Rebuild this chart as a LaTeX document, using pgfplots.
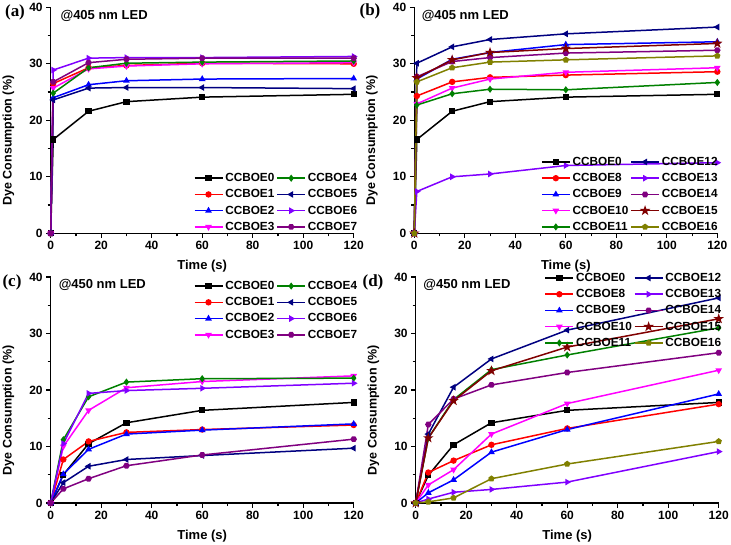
\documentclass[border=0pt]{standalone}
\usepackage{fontspec}
\setmainfont{Liberation Sans}
\newfontfamily\tnr{Liberation Serif}
\usepackage{pgfplots}
\pgfplotsset{compat=1.18}

\definecolor{cviolet}{RGB}{128,0,255}
\definecolor{cpurple}{RGB}{128,0,128}
\definecolor{cnavy}{RGB}{0,0,128}
\definecolor{cgreen}{RGB}{0,128,0}
\definecolor{cwine}{RGB}{128,0,0}
\definecolor{colive}{RGB}{128,128,0}
\definecolor{cmag}{RGB}{255,0,255}
\definecolor{cred}{RGB}{255,0,0}
\definecolor{cblue}{RGB}{0,0,255}

% filled hexagon and filled star marks (Origin style)
\pgfdeclareplotmark{hex*}{%
  \pgfpathmoveto{\pgfqpointpolar{0}{\pgfplotmarksize}}%
  \pgfpathlineto{\pgfqpointpolar{60}{\pgfplotmarksize}}%
  \pgfpathlineto{\pgfqpointpolar{120}{\pgfplotmarksize}}%
  \pgfpathlineto{\pgfqpointpolar{180}{\pgfplotmarksize}}%
  \pgfpathlineto{\pgfqpointpolar{240}{\pgfplotmarksize}}%
  \pgfpathlineto{\pgfqpointpolar{300}{\pgfplotmarksize}}%
  \pgfpathclose\pgfusepathqfillstroke}
\pgfdeclareplotmark{fstar}{%
  \pgfpathmoveto{\pgfqpointpolar{90}{1.3\pgfplotmarksize}}%
  \pgfpathlineto{\pgfqpointpolar{126}{0.5\pgfplotmarksize}}%
  \pgfpathlineto{\pgfqpointpolar{162}{1.3\pgfplotmarksize}}%
  \pgfpathlineto{\pgfqpointpolar{198}{0.5\pgfplotmarksize}}%
  \pgfpathlineto{\pgfqpointpolar{234}{1.3\pgfplotmarksize}}%
  \pgfpathlineto{\pgfqpointpolar{270}{0.5\pgfplotmarksize}}%
  \pgfpathlineto{\pgfqpointpolar{306}{1.3\pgfplotmarksize}}%
  \pgfpathlineto{\pgfqpointpolar{342}{0.5\pgfplotmarksize}}%
  \pgfpathlineto{\pgfqpointpolar{18}{1.3\pgfplotmarksize}}%
  \pgfpathlineto{\pgfqpointpolar{54}{0.5\pgfplotmarksize}}%
  \pgfpathclose\pgfusepathqfillstroke}

\pgfplotsset{
  panel/.style={
    scale only axis, width=303pt, height=226pt,
    axis lines=left, axis line style={-, line width=1.3pt},
    xmin=0, xmax=120, ymin=0, ymax=40,
    xtick={0,20,...,120}, ytick={0,10,...,40},
    minor x tick num=1, minor y tick num=1,
    tick align=outside, major tick length=4.5pt, minor tick length=3pt,
    every tick/.style={line width=1.1pt, black},
    /pgf/number format/assume math mode=true,
    ticklabel style={font=\bfseries\fontsize{12}{12}\selectfont},
    xlabel={Time (s)}, ylabel={Dye Consumption (\%)},
    xlabel style={font=\bfseries\fontsize{13}{13}\selectfont, at={(rel axis cs:0.5,0)}, anchor=center, yshift=-33pt},
    ylabel style={font=\bfseries\fontsize{12.5}{12.5}\selectfont, at={(rel axis cs:-0.140,0.41)}, anchor=center},
    clip=false,
    every axis plot/.append style={line width=1.5pt, mark size=2.4pt},
    transpose legend,
    legend cell align=left,
    legend style={draw=none, fill=none, inner sep=0pt, row sep=2.5pt,
      font=\bfseries\fontsize{11.8}{11.8}\selectfont,
      /tikz/every even column/.append style={column sep=0pt}},
    legend image code/.code={\draw[mark repeat=2,mark phase=2] plot coordinates {(0pt,0pt) (14pt,0pt) (28pt,0pt)};},
  },
  s0/.style={black, mark=square*},
  s1/.style={cred, mark=*},
  s2/.style={cblue, mark=triangle*},
  s3/.style={cmag, mark=triangle*, mark options={rotate=180}},
  s4/.style={cgreen, mark=diamond*},
  s5/.style={cnavy, mark=triangle*, mark options={rotate=90}},
  s6/.style={cviolet, mark=triangle*, mark options={rotate=-90}},
  s7/.style={cpurple, mark=hex*},
  s15/.style={cwine, mark=fstar},
  s16/.style={colive, mark=pentagon*},
}

\begin{document}
\begin{tikzpicture}
\path[use as bounding box] (0,0) rectangle (731pt,544pt);

% ---------------- (a) ----------------
\begin{axis}[panel, at={(50.7pt,310.7pt)}, anchor=south west,
  legend columns=4,
  legend style={at={(rel axis cs:0.745,0.136)}, anchor=center}]
\addplot[s0] coordinates {(0,0) (1,16.6) (15,21.6) (30,23.3) (60,24.1) (120,24.6)};
\addlegendentry{CCBOE0}
\addplot[s1] coordinates {(0,0) (1,26.5) (15,29.3) (30,29.7) (60,30.1) (120,30.0)};
\addlegendentry{CCBOE1}
\addplot[s2] coordinates {(0,0) (1,24.0) (15,26.3) (30,27.0) (60,27.3) (120,27.4)};
\addlegendentry{CCBOE2}
\addplot[s3] coordinates {(0,0) (1,25.7) (15,29.1) (30,29.6) (60,30.0) (120,30.2)};
\addlegendentry{CCBOE3}
\addplot[s4] coordinates {(0,0) (1,24.8) (15,29.3) (30,30.1) (60,30.3) (120,30.5)};
\addlegendentry{CCBOE4}
\addplot[s5] coordinates {(0,0) (1,23.6) (15,25.7) (30,25.8) (60,25.8) (120,25.6)};
\addlegendentry{CCBOE5}
\addplot[s6] coordinates {(0,0) (1,28.9) (15,31.0) (30,31.1) (60,31.1) (120,31.3)};
\addlegendentry{CCBOE6}
\addplot[s7] coordinates {(0,0) (1,26.8) (15,30.2) (30,30.8) (60,31.0) (120,31.0)};
\addlegendentry{CCBOE7}
\node[anchor=west, font=\bfseries\fontsize{13}{13}\selectfont] at (rel axis cs:0.021,0.961) {@405 nm LED};
\end{axis}

% ---------------- (b) ----------------
\begin{axis}[panel, at={(414.3pt,310.7pt)}, anchor=south west,
  legend columns=5,
  legend style={at={(rel axis cs:0.713,0.172)}, anchor=center}]
\addplot[s0] coordinates {(0,0) (1,16.6) (15,21.6) (30,23.3) (60,24.1) (120,24.6)};
\addlegendentry{CCBOE0}
\addplot[s1] coordinates {(0,0) (1,24.3) (15,26.8) (30,27.6) (60,28.0) (120,28.6)};
\addlegendentry{CCBOE8}
\addplot[s2] coordinates {(0,0) (1,27.3) (15,30.8) (30,32.0) (60,33.4) (120,33.9)};
\addlegendentry{CCBOE9}
\addplot[s3] coordinates {(0,0) (1,22.9) (15,25.7) (30,27.3) (60,28.5) (120,29.3)};
\addlegendentry{CCBOE10}
\addplot[s4] coordinates {(0,0) (1,22.7) (15,24.7) (30,25.5) (60,25.4) (120,26.7)};
\addlegendentry{CCBOE11}
\addplot[s5] coordinates {(0,0) (1,30.1) (15,33.0) (30,34.3) (60,35.3) (120,36.5)};
\addlegendentry{CCBOE12}
\addplot[s6] coordinates {(0,0) (1,7.4) (15,10.0) (30,10.5) (60,12.0) (120,12.5)};
\addlegendentry{CCBOE13}
\addplot[s7] coordinates {(0,0) (1,27.7) (15,30.4) (30,31.1) (60,31.9) (120,32.4)};
\addlegendentry{CCBOE14}
\addplot[s15] coordinates {(0,0) (1,27.5) (15,30.7) (30,32.0) (60,32.7) (120,33.6)};
\addlegendentry{CCBOE15}
\addplot[s16] coordinates {(0,0) (1,26.8) (15,29.3) (30,30.3) (60,30.7) (120,31.4)};
\addlegendentry{CCBOE16}
\node[anchor=west, font=\bfseries\fontsize{13}{13}\selectfont] at (rel axis cs:0.013,0.961) {@405 nm LED};
\end{axis}

% ---------------- (c) ----------------
\begin{axis}[panel, at={(50.7pt,41pt)}, anchor=south west,
  legend columns=4,
  legend style={at={(rel axis cs:0.745,0.852)}, anchor=center}]
\addplot[s0] coordinates {(0,0) (5,5.0) (15,10.5) (30,14.2) (60,16.4) (120,17.8)};
\addlegendentry{CCBOE0}
\addplot[s1] coordinates {(0,0) (5,7.7) (15,10.9) (30,12.5) (60,13.0) (120,13.8)};
\addlegendentry{CCBOE1}
\addplot[s2] coordinates {(0,0) (5,5.1) (15,9.5) (30,12.2) (60,12.9) (120,14.0)};
\addlegendentry{CCBOE2}
\addplot[s3] coordinates {(0,0) (5,10.0) (15,16.4) (30,20.4) (60,21.5) (120,22.5)};
\addlegendentry{CCBOE3}
\addplot[s4] coordinates {(0,0) (5,11.2) (15,18.8) (30,21.4) (60,22.0) (120,22.1)};
\addlegendentry{CCBOE4}
\addplot[s5] coordinates {(0,0) (5,3.6) (15,6.5) (30,7.7) (60,8.4) (120,9.7)};
\addlegendentry{CCBOE5}
\addplot[s6] coordinates {(0,0) (5,10.5) (15,19.4) (30,19.9) (60,20.3) (120,21.2)};
\addlegendentry{CCBOE6}
\addplot[s7] coordinates {(0,0) (5,2.5) (15,4.3) (30,6.6) (60,8.5) (120,11.3)};
\addlegendentry{CCBOE7}
\node[anchor=west, font=\bfseries\fontsize{13}{13}\selectfont] at (rel axis cs:0.015,0.965) {@450 nm LED};
\end{axis}

% ---------------- (d) ----------------
\begin{axis}[panel, at={(415.7pt,41pt)}, anchor=south west,
  legend columns=5,
  legend style={at={(rel axis cs:0.72,0.852)}, anchor=center}]
\addplot[s0] coordinates {(0,0) (5,4.9) (15,10.3) (30,14.2) (60,16.4) (120,17.8)};
\addlegendentry{CCBOE0}
\addplot[s1] coordinates {(0,0) (5,5.4) (15,7.5) (30,10.3) (60,13.2) (120,17.5)};
\addlegendentry{CCBOE8}
\addplot[s2] coordinates {(0,0) (5,1.8) (15,4.1) (30,9.0) (60,13.0) (120,19.3)};
\addlegendentry{CCBOE9}
\addplot[s3] coordinates {(0,0) (5,3.2) (15,5.9) (30,12.2) (60,17.6) (120,23.5)};
\addlegendentry{CCBOE10}
\addplot[s4] coordinates {(0,0) (5,11.5) (15,18.3) (30,23.6) (60,26.2) (120,31.0)};
\addlegendentry{CCBOE11}
\addplot[s5] coordinates {(0,0) (5,12.2) (15,20.5) (30,25.5) (60,30.6) (120,36.3)};
\addlegendentry{CCBOE12}
\addplot[s6] coordinates {(0,0) (5,0.7) (15,1.9) (30,2.4) (60,3.7) (120,9.1)};
\addlegendentry{CCBOE13}
\addplot[s7] coordinates {(0,0) (5,13.9) (15,18.4) (30,20.9) (60,23.1) (120,26.6)};
\addlegendentry{CCBOE14}
\addplot[s15] coordinates {(0,0) (5,11.5) (15,18.1) (30,23.4) (60,27.6) (120,32.6)};
\addlegendentry{CCBOE15}
\addplot[s16] coordinates {(0,0) (5,0.2) (15,0.9) (30,4.3) (60,6.9) (120,10.9)};
\addlegendentry{CCBOE16}
\node[anchor=west, font=\bfseries\fontsize{13}{13}\selectfont] at (rel axis cs:0.014,0.965) {@450 nm LED};
\end{axis}

% panel letters
\node[font=\tnr\bfseries\fontsize{17}{17}\selectfont] at (15pt,531.5pt) {(a)};
\node[font=\tnr\bfseries\fontsize{17}{17}\selectfont] at (370pt,532.5pt) {(b)};
\node[font=\tnr\bfseries\fontsize{17}{17}\selectfont] at (12pt,262pt) {(c)};
\node[font=\tnr\bfseries\fontsize{17}{17}\selectfont] at (373pt,262pt) {(d)};
\end{tikzpicture}
\end{document}
